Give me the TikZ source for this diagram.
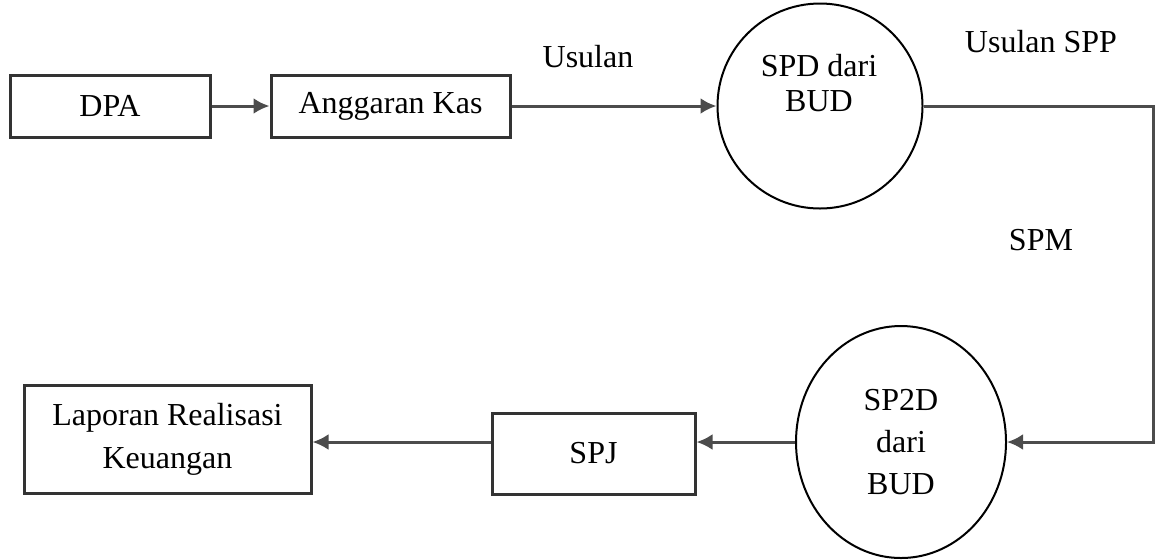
\documentclass[tikz,border=0pt]{standalone}
\usepackage{fontspec}
\setmainfont{Liberation Serif}
\usetikzlibrary{arrows.meta,shapes.geometric}

\begin{document}
\begin{tikzpicture}[x=0.5pt, y=-0.5pt, font=\fontsize{16}{20}\selectfont]

\useasboundingbox (0,0) rectangle (1155,559);

\begin{scope}[every node/.style={rectangle, draw=black!80, line width=1.5pt, align=center}]
    \node[minimum width=100pt, minimum height=31pt] (dpa) at (110,106) {DPA};
    \node[minimum width=119.5pt, minimum height=31pt] (kas) at (390.5,106) {Anggaran Kas};
    \node[minimum width=101.5pt, minimum height=40.5pt] (spj) at (593.5,453.5) {SPJ};
    \node[minimum width=143.5pt, minimum height=54pt, font=\fontsize{16}{21.5}\selectfont] (lap) at (167.5,439) {Laporan Realisasi\\Keuangan};
\end{scope}

\begin{scope}[every node/.style={draw=black, line width=1pt, align=center, inner sep=0pt}]
    \node[circle, minimum size=102.5pt] (spd) at (820,106) {};
    \node[ellipse, minimum width=105pt, minimum height=116pt, font=\fontsize{16}{21}\selectfont] (sp2d) at (901,442) {SP2D\\dari\\BUD};
\end{scope}

\begin{scope}[every node/.style={align=center}]
    \node[font=\fontsize{16}{17.5}\selectfont] (spdtext) at (819,83) {SPD dari\\BUD};
    \node (usulan) at (588,57) {Usulan};
    \node (usulanspp) at (1041,42) {Usulan SPP};
    \node (spm) at (1041,240) {SPM};
\end{scope}

\coordinate (corner) at (1153,0);

\begin{scope}[-{Latex[length=8pt, width=8pt]}, line width=1.5pt, draw=black!70]
    \draw (dpa) -- (kas);
    \draw (kas) -- (spd);
    \draw (spd) -- (spd -| corner) |- (sp2d);
    \draw (sp2d) -- (sp2d -| spj.east);
    \draw (sp2d -| spj.west) -- (sp2d -| lap.east);
\end{scope}

\end{tikzpicture}
\end{document}
